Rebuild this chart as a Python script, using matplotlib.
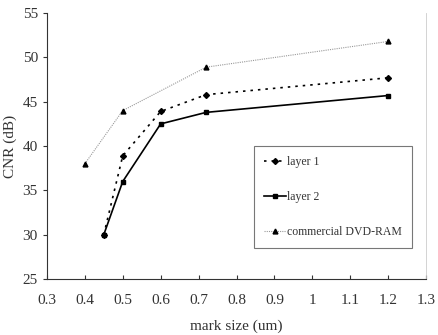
import matplotlib
matplotlib.use("Agg")
import matplotlib.pyplot as plt

plt.rcParams['font.family'] = ['Liberation Serif', 'DejaVu Serif']

# data
x_layer1 = [0.45, 0.5, 0.6, 0.72, 1.2]
cnr_layer1 = [30.0, 38.9, 43.9, 45.8, 47.7]

x_layer2 = [0.45, 0.5, 0.6, 0.72, 1.2]
cnr_layer2 = [30.0, 36.0, 42.5, 43.8, 45.7]

x_dvd = [0.4, 0.5, 0.72, 1.2]
cnr_dvd = [38.0, 44.0, 48.9, 51.8]

xticks = [0.3, 0.4, 0.5, 0.6, 0.7, 0.8, 0.9, 1, 1.1, 1.2, 1.3]
xticklabels = ['0.3', '0.4', '0.5', '0.6', '0.7', '0.8', '0.9', '1', '1.1', '1.2', '1.3']
yticks = [25, 30, 35, 40, 45, 50, 55]

fig = plt.figure(figsize=(4.38, 3.35), dpi=100)
ax = fig.add_axes([0.107, 0.167, 0.866, 0.794])

ax.plot(x_layer1, cnr_layer1, color='black', linestyle=(0, (1.5, 3)), linewidth=1.2,
        marker='D', markersize=3, label='layer 1')
ax.plot(x_layer2, cnr_layer2, color='black', linestyle='-', linewidth=1.2,
        marker='s', markersize=3.5, label='layer 2')
ax.plot(x_dvd, cnr_dvd, color='#999999', linestyle=(0, (1, 1)), linewidth=0.8,
        marker='^', markersize=3.5, markerfacecolor='black', markeredgecolor='black',
        label='commercial DVD-RAM')

ax.set_xlim(0.3, 1.3)
ax.set_ylim(25, 55)
ax.set_xticks(xticks)
ax.set_xticklabels(xticklabels)
ax.set_yticks(yticks)
ax.tick_params(axis='x', direction='in', length=3, pad=11, labelsize=11, colors='#333333')
ax.tick_params(axis='y', direction='out', length=3, labelsize=11, colors='#333333')

ax.spines['top'].set_visible(False)
ax.spines['right'].set_color('#cccccc')
ax.spines['right'].set_linewidth(0.6)
ax.spines['left'].set_color('#333333')
ax.spines['bottom'].set_color('#333333')

ax.set_xlabel('mark size (um)', fontsize=11, color='#333333', labelpad=9)
ax.set_ylabel('CNR (dB)', fontsize=11, color='#333333')

leg = ax.legend(loc='upper left', bbox_to_anchor=(0.547, 0.5), fontsize=8.5,
                frameon=True, fancybox=False, edgecolor='#555555',
                labelspacing=1.95, handlelength=1.8, handletextpad=0.15,
                borderpad=0.85, borderaxespad=0)
leg.get_frame().set_linewidth(0.8)
for t in leg.get_texts():
    t.set_color('#333333')

fig.savefig('out.png', dpi=100)
